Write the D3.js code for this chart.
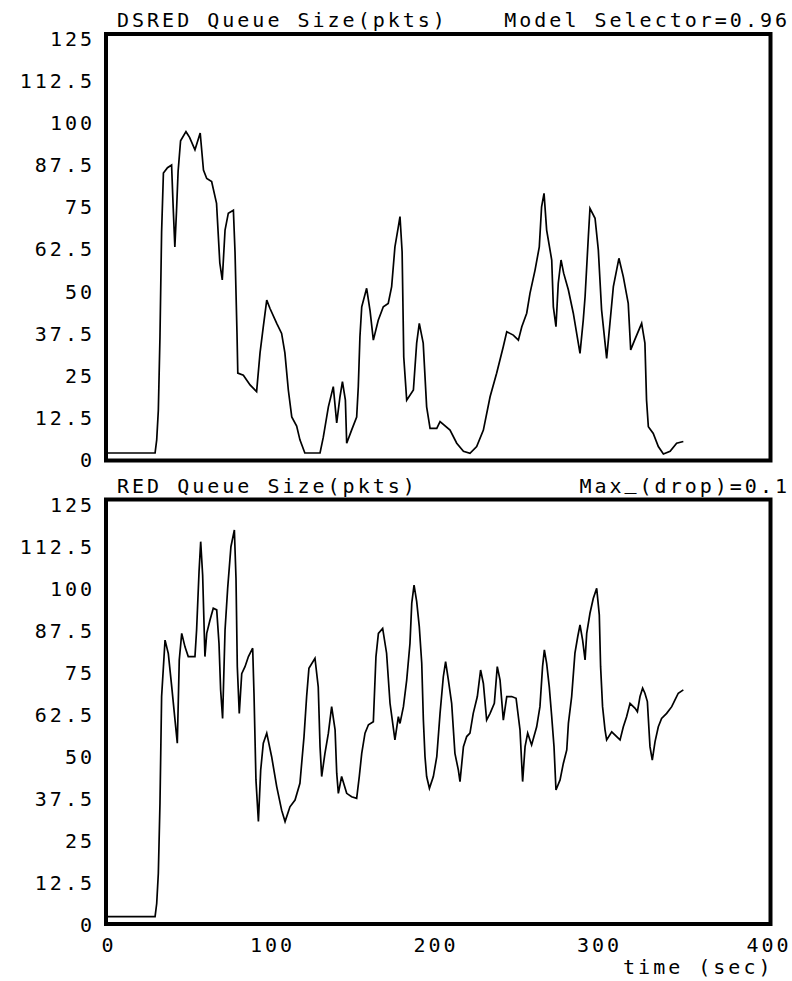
<!DOCTYPE html>
<html>
<head>
<meta charset="utf-8">
<script src="https://cdn.jsdelivr.net/npm/d3@7"></script>
<style>
  body { margin: 0; background: #fff; }
  text { font-family: "DejaVu Sans Mono", "Liberation Mono", monospace; font-size: 20px; letter-spacing: 3px; fill: #000; }
</style>
</head>
<body>
<script>
// DSRED queue size samples (time in sec, queue in pkts)
const dsredTime = [0, 29.4, 30.4, 31.4, 32.4, 33.4, 34.5, 37, 39.5, 40.5, 41.5, 42.5, 43.5, 45, 48.3, 50.5, 53.8, 57, 59, 61,
  64, 67, 69, 70.5, 72.2, 74.2, 77.3, 78.3, 79.5, 80, 83.4, 87.5, 91.5, 93.6, 95.6, 97.7, 99.7, 103.8, 106.8, 108.8,
  110.9, 113, 116, 118, 121, 130.3, 132.3, 135.4, 138.4, 140.5, 142.5, 144, 145.8, 146.6, 149.6, 152.7, 153.7, 154.7, 155.8, 158.8,
  160.9, 162.9, 165.9, 169, 172, 174.1, 176.1, 178.2, 179.2, 180.5, 181.5, 183.3, 187.4, 189.4, 191, 193.4, 195.5, 197.6, 201.7, 203.7,
  209.8, 213.9, 218, 222, 226.1, 230.2, 234.3, 238.3, 242.4, 244.5, 248.5, 251.6, 253.7, 256.7, 258.7, 261.8, 264.4, 265.8, 267.3, 268.9,
  272, 273, 274.6, 276, 277.7, 279.3, 282.2, 285.2, 289.3, 291.3, 292.4, 294.4, 295.4, 298.5, 300.5, 302.5, 305.6, 307.6, 309.7, 313.1,
  315.8, 318.8, 320.3, 322.7, 327, 329, 330, 331.1, 334.1, 337.2, 340.3, 344.4, 348.4, 352.5];
const dsredQueue = [0.3, 0.3, 4.2, 13, 34.8, 66, 83.4, 85, 85.8, 73, 61.5, 72, 84, 93, 95.7, 94, 90.3, 95.3, 84.3, 81.8,
  80.9, 74.4, 56.7, 51.7, 66.5, 71.5, 72.4, 60, 36, 24, 23.4, 20.5, 18.5, 30, 37.8, 45.7, 43.2, 38.8, 35.8, 30,
  19, 11, 8.3, 4.2, 0.3, 0.3, 5, 14, 20, 9.2, 17, 21.5, 16, 3.2, 7.1, 11, 20, 34.8, 43.7, 49.2,
  42.5, 33.8, 39.7, 43.7, 44.7, 49.7, 61.5, 67.5, 70.5, 60, 28.8, 16, 19, 32.9, 38.8, 32.9, 14, 7.6, 7.6, 9.6,
  7.1, 3.2, 0.8, 0.2, 2.2, 7.1, 17, 24, 31.9, 36.3, 35.3, 33.8, 37.8, 41.8, 47.7, 54.6, 61.5, 73.4, 77.4, 66.5,
  57.6, 43.7, 37.8, 50.7, 57.6, 53.7, 48.7, 41.8, 29.9, 39.8, 46.7, 64.5, 72.9, 70, 60.6, 42.8, 28.4, 38.8, 49.7, 58.1,
  52.6, 44.7, 30.9, 33.8, 38.8, 32.9, 16, 8.1, 6.1, 2.2, 0, 0.8, 3.2, 3.7];

// RED queue size samples
const redTime = [0, 29.4, 30.4, 31.4, 32.4, 33.4, 35.5, 37.5, 39.6, 41.6, 43, 44.2, 45.7, 47.7, 49.7, 53.8, 54.8, 56.3, 57.3, 58.5,
  59.9, 61, 63, 65, 67.1, 68.5, 69.5, 70.7, 72.2, 73.8, 75.8, 77.9, 78.9, 79.7, 80.9, 82.4, 84.4, 86.5, 89.1, 89.9,
  91.1, 92.6, 94, 95.6, 97.7, 100.7, 103.8, 106.8, 108.9, 111.9, 115, 118, 120.5, 122.1, 123.5, 127.2, 129.2, 130.3, 131.3, 133.3,
  135.4, 137.4, 139.5, 140.5, 141.5, 143.5, 146.6, 149.6, 152.7, 154.3, 155.8, 157.8, 159.9, 162.9, 164.5, 166, 168.6, 171, 173.1, 176.1,
  178.2, 179.2, 181.3, 183.3, 185.3, 186.4, 187.8, 189.4, 191, 192.5, 193.5, 194.5, 195.5, 197.2, 199.6, 201.7, 203.7, 205.7, 207.1, 208.8,
  210.8, 212.8, 214.9, 215.9, 218, 220, 222, 224, 226.5, 228.5, 230.2, 232.2, 234.3, 236.9, 238.7, 240.4, 242.4, 244.5, 247.5, 250.2,
  252.6, 254.2, 255.7, 257.3, 259.7, 262.8, 264.8, 266.4, 267.5, 268.9, 270.5, 272, 273.4, 274.6, 277.1, 279.1, 281.2, 282.2, 284.2, 286.2,
  287.9, 289.3, 290.9, 292.4, 293.4, 295.4, 297.4, 299.5, 301.1, 301.9, 303.1, 304.6, 305.6, 308.7, 313.8, 315.8, 317.8, 319.9, 323, 324.4,
  326, 327.6, 329, 330.5, 332.1, 333.5, 335.2, 337.2, 339.2, 342.3, 345.4, 347.4, 349.4, 352.5];
const redQueue = [0.7, 0.7, 4.6, 13.6, 34.4, 66.2, 83, 79, 69.1, 59.2, 52.3, 77.1, 85, 81, 78.1, 78.1, 86, 103.4, 112.3, 102.4,
  78.1, 85, 89, 92.5, 92, 82, 68.2, 59.7, 86, 98.4, 110.8, 115.8, 101.4, 75.1, 61.2, 73, 75.1, 78.1, 80.6, 67.2,
  41.4, 29, 44.3, 52.3, 55.3, 48.3, 39.4, 32.4, 29, 33.4, 35.4, 40.4, 54.3, 66.2, 74.6, 77.6, 69.1, 51.3, 42.4, 49.3,
  55.3, 63.2, 56.3, 43.4, 37.4, 42.4, 37.4, 36.4, 35.9, 42.4, 49.3, 55.3, 57.8, 58.7, 78.1, 85, 86.5, 79.1, 64.2, 53.3,
  60.2, 58.2, 63.2, 71.1, 82, 94, 99.4, 94.5, 87, 76.1, 59.2, 48.3, 42.4, 38.9, 42.4, 48.3, 61.2, 72.1, 76.6, 71.1,
  64.2, 49.3, 44.3, 40.9, 51.3, 54.3, 55.3, 61.2, 66.2, 74.1, 70.1, 59.2, 61.2, 64.2, 75.1, 71.1, 59.2, 66.2, 66.2, 65.7,
  56.3, 40.9, 51.3, 55.3, 51.8, 57.2, 63.2, 75.1, 80.1, 76.1, 69.1, 60.2, 51.3, 38.4, 41.4, 46.3, 50.3, 58.2, 66.2, 79.1,
  84, 87.5, 83, 77.1, 85, 91, 95.4, 98.4, 90.5, 75.1, 63.2, 56.3, 53.3, 55.7, 53.3, 57.2, 60.2, 64.2, 62.7, 61.7,
  66.2, 68.7, 67.2, 64.7, 51.3, 47.3, 52.8, 57.2, 59.7, 61.2, 63.2, 65.2, 67.2, 68.2];

const yTicks = [0, 12.5, 25, 37.5, 50, 62.5, 75, 87.5, 100, 112.5, 125];
const xTicks = [0, 100, 200, 300, 400];

const width = 792, height = 981;
const left = 106, right = 770.5;

const svg = d3.select("body")
  .append("svg")
  .attr("width", width)
  .attr("height", height);

const x = d3.scaleLinear().domain([0, 400]).range([107, 761]);

// split a label so an underscore sits on the baseline like the original bitmap font
function addLabel(sel, str) {
  const parts = str.split("_");
  parts.forEach((p, i) => {
    if (i > 0) sel.append("tspan").attr("dy", -4).text("_");
    sel.append("tspan").attr("dy", i > 0 ? 4 : null).text(p);
  });
}

function createPanel(time, queue, frame, title, note, showX) {
  // frame.top/bottom = box edges, frame.zero/full = y of 0 and 125 pkts
  const y = d3.scaleLinear().domain([0, 125]).range([frame.zero, frame.full]);
  const g = svg.append("g");

  g.append("rect")
    .attr("x", left)
    .attr("y", frame.top)
    .attr("width", right - left)
    .attr("height", frame.bottom - frame.top)
    .attr("fill", "none")
    .attr("stroke", "#000")
    .attr("stroke-width", 4);

  const line = d3.line()
    .x((d, i) => x(time[i]))
    .y(d => y(d));

  g.append("path")
    .datum(queue)
    .attr("d", line)
    .attr("fill", "none")
    .attr("stroke", "#000")
    .attr("stroke-width", 1.7)
    .attr("stroke-linejoin", "miter");

  // y labels, no tick marks
  g.append("g")
    .attr("transform", "translate(95,6)")
    .call(d3.axisLeft(y).tickValues(yTicks).tickSize(0).tickPadding(0).tickFormat(d => d))
    .call(a => a.select(".domain").remove())
    .selectAll("text")
    .attr("font-family", null)
    .attr("font-size", null)
    .attr("fill", null);

  if (showX) {
    g.append("g")
      .attr("transform", `translate(1.5,${frame.bottom + 14})`)
      .call(d3.axisBottom(x).tickValues(xTicks).tickSize(0).tickPadding(0).tickFormat(d => d))
      .call(a => a.select(".domain").remove())
      .selectAll("text")
      .attr("font-family", null)
      .attr("font-size", null)
      .attr("fill", null)
      .filter(d => d === 400)
      .attr("dx", 6);

    g.append("text")
      .attr("x", right + 3)
      .attr("y", frame.bottom + 50)
      .attr("text-anchor", "end")
      .text("time (sec)");
  }

  g.append("text")
    .attr("x", 117)
    .attr("y", frame.top - 7)
    .text(title);

  g.append("text")
    .attr("x", 790)
    .attr("y", frame.top - 7)
    .attr("text-anchor", "end")
    .call(t => addLabel(t, note));
}

createPanel(dsredTime, dsredQueue, { top: 34, bottom: 460.5, zero: 454, full: 33 },
  "DSRED Queue Size(pkts)", "Model Selector=0.96", false);
createPanel(redTime, redQueue, { top: 499.5, bottom: 924, zero: 919, full: 499 },
  "RED Queue Size(pkts)", "Max_(drop)=0.1", true);
</script>
</body>
</html>
